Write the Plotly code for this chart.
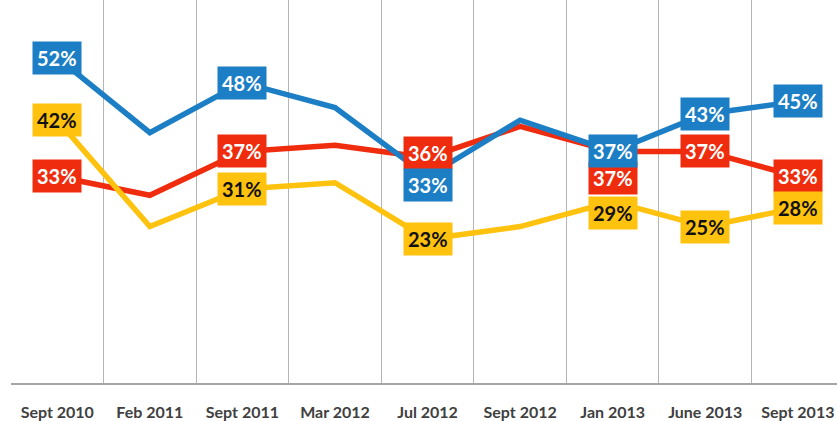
import plotly.graph_objects as go

categories = ["Sept 2010", "Feb 2011", "Sept 2011", "Mar 2012", "Jul 2012",
              "Sept 2012", "Jan 2013", "June 2013", "Sept 2013"]
blue_vals = [52, 40, 48, 44, 33, 42, 37, 43, 45]
red_vals = [33, 30, 37, 38, 36, 41, 37, 37, 33]
yellow_vals = [42, 25, 31, 32, 23, 25, 29, 25, 28]

labeled_idx = [0, 2, 4, 6, 7, 8]

BLUE = "#1C7EC4"
RED = "#EF2C0E"
YELLOW = "#FFC20E"

# label vertical shifts in px (positive = up) per series, keyed by index
red_shift = {4: 5, 6: -27}
blue_shift = {4: -9}
yellow_shift = {6: -11}

fig = go.Figure()
series = [
    ("red", red_vals, RED, "white", red_shift),
    ("blue", blue_vals, BLUE, "white", blue_shift),
    ("yellow", yellow_vals, YELLOW, "#111111", yellow_shift),
]
for name, vals, col, tcol, shifts in series:
    fig.add_trace(go.Scatter(x=categories, y=vals, mode="lines", name=name,
                             line=dict(color=col, width=5.5), hoverinfo="skip"))

annotations = []
for name, vals, col, tcol, shifts in series:
    for i in labeled_idx:
        annotations.append(dict(
            x=categories[i], y=vals[i], xref="x", yref="y",
            text=f"{vals[i]}%", showarrow=False,
            bgcolor=col, borderpad=4,
            yshift=shifts.get(i, 0),
            font=dict(family="Lato", size=20, color=tcol, weight="bold"),
        ))

fig.update_layout(
    width=837, height=421,
    margin=dict(l=11, r=0, t=0, b=38),
    paper_bgcolor="white", plot_bgcolor="white",
    showlegend=False,
    annotations=annotations,
    xaxis=dict(type="category", tickson="boundaries", showgrid=True,
               gridcolor="#b5b5b5", gridwidth=1, range=[-0.5, 8.423],
               showline=True, linecolor="#a6a6a6", linewidth=1.5,
               ticks="", ticklabelstandoff=14,
               tickfont=dict(family="Lato", size=16, color="#404040", weight="bold"),
               fixedrange=True),
    yaxis=dict(range=[0, 61.2], showgrid=False, zeroline=False,
               showticklabels=False, showline=False, fixedrange=True),
)

fig.write_html("out.html", config={"displayModeBar": False},
               post_script="document.body.style.margin='0';document.body.style.overflow='hidden';")
